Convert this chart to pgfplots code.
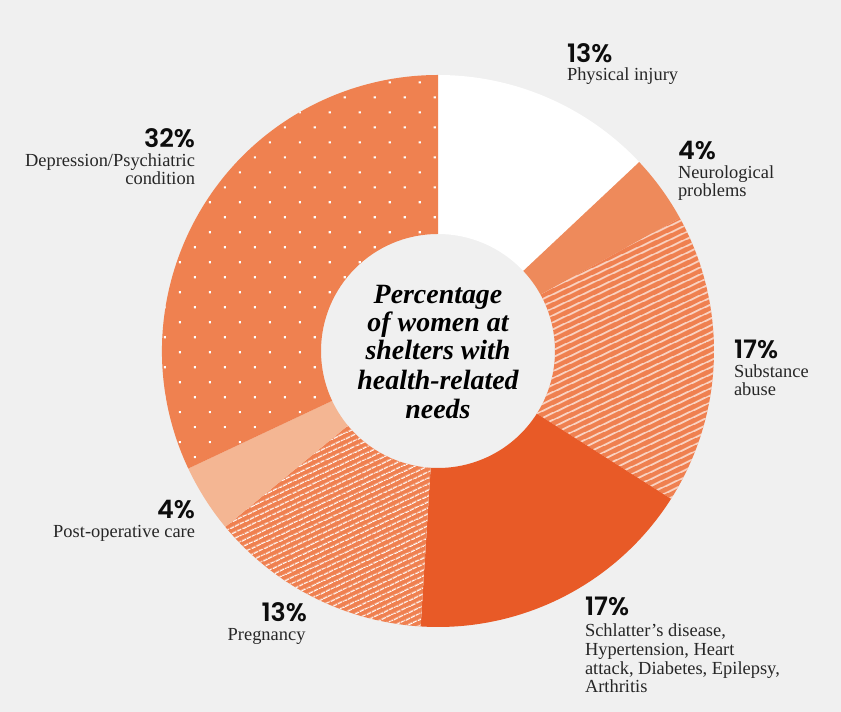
\documentclass[border=0pt]{standalone}
\usepackage{pgfplots}
\pgfplotsset{compat=1.18}
\usepackage{pgfplotstable}
\usetikzlibrary{patterns.meta}
\usepackage{fontspec}
\setmainfont{Liberation Serif}
\newfontfamily\pctfont{Poppins SemiBold}

\definecolor{bgc}{HTML}{F0F0F0}
\definecolor{neuroc}{HTML}{EE8A5B}
\definecolor{hatchc}{HTML}{EF8050}
\definecolor{dotc}{HTML}{EF8150}
\definecolor{schlc}{HTML}{E85A27}
\definecolor{postc}{HTML}{F4B693}

\tikzset{
  sPhys/.style={fill=white},
  sNeuro/.style={fill=neuroc},
  sSub/.style={preaction={fill=hatchc}, pattern={Lines[angle=25,distance=6bp,line width=1.3bp]}, pattern color=white},
  sSchl/.style={fill=schlc},
  sPreg/.style={preaction={fill=hatchc}, pattern={Lines[angle=25,distance=5.2bp,line width=1.1bp]}, pattern color=white},
  sPost/.style={fill=postc},
  sDep/.style={preaction={fill=dotc}, pattern={Dots[angle=45,distance=21.2bp,radius=1.5bp]}, pattern color=white},
  pct/.style={font=\pctfont\fontsize{25.5}{25.5}\selectfont, inner sep=0pt, outer sep=0pt, text=black!95},
  lab/.style={font=\fontsize{18.5}{18.5}\selectfont, inner sep=0pt, outer sep=0pt, text=black!85},
  ttl/.style={font=\bfseries\itshape\fontsize{28}{28}\selectfont, inner sep=0pt, outer sep=0pt, anchor=base, text=black},
}

% share of women at shelters, in percent, clockwise from 12 o'clock
\pgfplotstableread{
category pct sty
Physical 13 sPhys
Neurological 4 sNeuro
Substance 17 sSub
Schlatter 17 sSchl
Pregnancy 13 sPreg
PostOperative 4 sPost
Depression 32 sDep
}\piedata

\begin{document}
\begin{tikzpicture}
\begin{axis}[
  x=1bp, y=1bp, xmin=0, xmax=841, ymin=0, ymax=712,
  scale only axis, hide axis, clip=false,
  at={(0,0)}, anchor=south west,
]
\fill[bgc] (axis cs:0,0) rectangle (axis cs:841,712);
\def\cum{0}
\pgfplotsforeachungrouped \i in {0,...,6}{%
  \pgfplotstablegetelem{\i}{pct}\of\piedata \let\p\pgfplotsretval
  \pgfplotstablegetelem{\i}{sty}\of\piedata \let\s\pgfplotsretval
  \pgfmathsetmacro\aA{90-3.6*\cum}%
  \pgfmathsetmacro\cum{\cum+\p}%
  \pgfmathsetmacro\aB{90-3.6*\cum}%
  \edef\slice{\noexpand\fill[\s, shift={(axis cs:438,361)}] (\aA:276bp) arc[start angle=\aA, end angle=\aB, radius=276bp] -- (\aB:117bp) arc[start angle=\aB, end angle=\aA, radius=117bp] -- cycle;}%
  \slice
}

% centre title
\node[ttl] at (axis cs:438,408.7) {Percentage};
\node[ttl] at (axis cs:438,380.3) {of women at};
\node[ttl] at (axis cs:438,352) {shelters with};
\node[ttl] at (axis cs:438,322.7) {health-related};
\node[ttl] at (axis cs:438,293.7) {needs};

% Physical injury
\node[pct, anchor=base west] at (axis cs:567,649) {13\%};
\node[lab, anchor=base west] at (axis cs:567,631) {Physical injury};
% Neurological
\node[pct, anchor=base west] at (axis cs:678,552.5) {4\%};
\node[lab, anchor=base west] at (axis cs:678,533) {Neurological};
\node[lab, anchor=base west] at (axis cs:678,515) {problems};
% Substance abuse
\node[pct, anchor=base west] at (axis cs:734,353) {17\%};
\node[lab, anchor=base west] at (axis cs:734,334.5) {Substance};
\node[lab, anchor=base west] at (axis cs:734,316) {abuse};
% Schlatter's etc.
\node[pct, anchor=base west] at (axis cs:585,96) {17\%};
\node[lab, anchor=base west] at (axis cs:585,75.5) {Schlatter’s disease,};
\node[lab, anchor=base west] at (axis cs:585,56.5) {Hypertension, Heart};
\node[lab, anchor=base west] at (axis cs:585,37.7) {attack, Diabetes, Epilepsy,};
\node[lab, anchor=base west] at (axis cs:585,19.5) {Arthritis};
% Pregnancy
\node[pct, anchor=base east] at (axis cs:307,90.3) {13\%};
\node[lab, anchor=base east] at (axis cs:305.5,71.3) {Pregnancy};
% Post-operative care
\node[pct, anchor=base east] at (axis cs:195,193.7) {4\%};
\node[lab, anchor=base east] at (axis cs:195,174.7) {Post-operative care};
% Depression
\node[pct, anchor=base east] at (axis cs:195,564.3) {32\%};
\node[lab, anchor=base east] at (axis cs:195,545.3) {Depression/Psychiatric};
\node[lab, anchor=base east] at (axis cs:195,527) {condition};
\end{axis}
\end{tikzpicture}
\end{document}
